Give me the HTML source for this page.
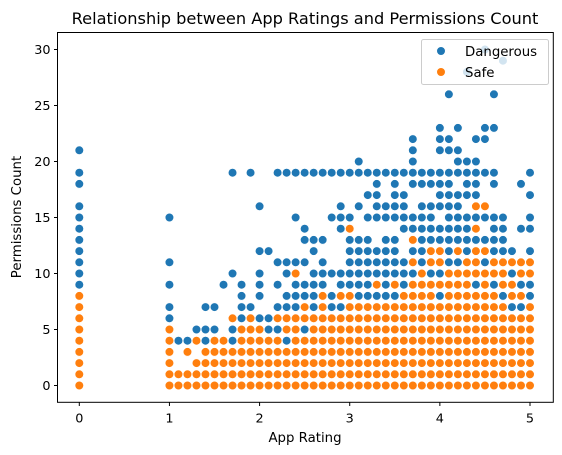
<!DOCTYPE html>
<html><head><meta charset="utf-8"><style>
body{margin:0;background:#fff;}
svg{display:block;font-family:"DejaVu Sans","Liberation Sans",sans-serif;}
</style></head><body>
<svg id="chart" width="562" height="455" viewBox="0 0 562 455" xmlns="http://www.w3.org/2000/svg">
<text x="305" y="24" font-size="16.2" text-anchor="middle" fill="#000">Relationship between App Ratings and Permissions Count</text>
<g id="points"></g>
<rect x="57.5" y="32.5" width="495.8" height="369.8" fill="none" stroke="#000" stroke-width="1"/>
<g id="axes"></g>
<text x="305" y="442" font-size="13.3" text-anchor="middle">App Rating</text>
<text x="21" y="217" font-size="13.3" text-anchor="middle" transform="rotate(-90 21 217)">Permissions Count</text>
<g>
<rect x="421.5" y="39.5" width="127" height="45" rx="2" fill="#fff" fill-opacity="0.8" stroke="#ccc"/>
<g><circle cx="441" cy="51" r="4.3" fill="#1f77b4" stroke="#fff" stroke-width="0.6"/><text x="465" y="56" font-size="13.3">Dangerous</text></g>
<g><circle cx="441" cy="72" r="4.3" fill="#ff7f0e" stroke="#fff" stroke-width="0.6"/><text x="465" y="77" font-size="13.3">Safe</text></g>
</g>
</svg>
<script>
const ratings = [0,1.0,1.1,1.2,1.3,1.4,1.5,1.6,1.7,1.8,1.9,2.0,2.1,2.2,2.3,2.4,2.5,2.6,2.7,2.8,2.9,3.0,3.1,3.2,3.3,3.4,3.5,3.6,3.7,3.8,3.9,4.0,4.1,4.2,4.3,4.4,4.5,4.6,4.7,4.8,4.9,5.0];
const dangerousCounts = [
[21,19,18,16,15,14,13,12,11,10,9],[15,11,9,7,6],[4],[4],[5],[7,5,4],[7,5],[9],[19,10,5,4],[9,8,7,6],[19,7],
[16,12,10,9,8,6],[12,6,5],[19,11,9,7,5],[19,11,10,8,7,4],[19,15,11,9,8,7],[19,14,13,11,9,8,5],[19,13,12,10,9,8,7],[19,13,11,10,9],[19,15,10,8,7],[19,16,15,14,10,9,7],
[19,15,13,12,11,10,9],[20,19,16,13,12,11,10,9,8],[19,17,15,13,12,11,10,9,8],[19,18,17,16,15,12,11,10,8],[19,16,15,13,12,11,10,9,8],[19,18,17,16,15,13,12,11,10,8],[19,17,16,15,14,11,10,9],[22,21,20,19,18,15,14,12,10],[19,18,16,15,14,13,12,11],[19,18,16,15,14,13,10],
[23,22,21,19,18,17,16,14,13,10,8],[26,22,21,19,18,17,16,15,14,13,12,11],[23,21,20,19,17,16,15,14,13,11],[28,20,19,18,17,15,14,13,12],[22,20,19,18,17,15,13,9],[30,23,22,19,15,13,11],[26,23,19,18,15,14,13,12,9],[29,15,14,13,12,8],[12,10,7],[18,14,9,7],[19,17,15,14,12,9,8]
];
const safeCounts = [
[0,1,2,3,4,5,6,7,8],[0,1,2,3,4,5],[0,1],[0,1,3],[0,1,2,4],[0,1,2,3],[0,1,2,3,4],[0,1,2,3,4],[0,1,2,3,6],[0,1,2,3,4,5],[0,1,2,3,4,5,6],
[0,1,2,3,4,5],[0,1,2,3,4],[0,1,2,3,4,6],[0,1,2,3,5,6],[0,1,2,3,4,5,6,10],[0,1,2,3,4,6,7],[0,1,2,3,4,5,6],[0,1,2,3,4,5,6,7,8],[0,1,2,3,4,5,6],[0,1,2,3,4,5,6,8],
[0,1,2,3,4,5,6,7,8,14],[0,1,2,3,4,5,6,7],[0,1,2,3,4,5,6,7],[0,1,2,3,4,5,6,7,9],[0,1,2,3,4,5,6,7],[0,1,2,3,4,5,6,7,9],[0,1,2,3,4,5,6,7,8],[0,1,2,3,4,5,6,7,8,9,11,13],[0,1,2,3,4,5,6,7,8,9,10],[0,1,2,3,4,5,6,7,8,9,11,12],
[0,1,2,3,4,5,6,7,9,11,12],[0,1,2,3,4,5,6,7,8,9,10],[0,1,2,3,4,5,6,7,8,9,10,12],[0,1,2,3,4,5,6,7,8,9,10,11],[0,1,2,3,4,5,6,7,8,10,11,12,14,16],[0,1,2,3,4,5,6,7,8,9,10,12,16],[0,1,2,3,4,5,6,7,8,10,11],[0,1,2,3,4,5,6,7,9,10,11],[0,1,2,3,4,5,6,8,9,11],[0,1,2,3,4,5,6,8,10,11],[0,1,2,3,4,5,6,7,10,11]
];
const xTicks = [0,1,2,3,4,5];
const yTicks = [0,5,10,15,20,25,30];

const NS = "http://www.w3.org/2000/svg";
function xScale(v){ return 79.3 + v*90.14; }
function yScale(v){ return 385.5 - v*11.2; }

const pts = document.getElementById('points');
function dot(r, c, color, name){
  const el = document.createElementNS(NS,'circle');
  el.setAttribute('cx', xScale(r));
  el.setAttribute('cy', yScale(c));
  el.setAttribute('r', 4.3);
  el.setAttribute('fill', color);
  el.setAttribute('stroke', '#fff');
  el.setAttribute('stroke-width', 0.6);
  
  
  pts.appendChild(el);
}
ratings.forEach((r,i)=>{
  dangerousCounts[i].forEach(c=>dot(r,c,'#1f77b4','dangerous-point'));
  safeCounts[i].forEach(c=>dot(r,c,'#ff7f0e','safe-point'));
});

const axes = document.getElementById('axes');
xTicks.forEach(t=>{
  const x = xScale(t);
  const ln = document.createElementNS(NS,'line');
  ln.setAttribute('x1',x); ln.setAttribute('x2',x);
  ln.setAttribute('y1',402.3); ln.setAttribute('y2',406);
  ln.setAttribute('stroke','#000');
  
  
  axes.appendChild(ln);
  const tx = document.createElementNS(NS,'text');
  tx.setAttribute('x',x); tx.setAttribute('y',422.5);
  tx.setAttribute('font-size','12.8'); tx.setAttribute('text-anchor','middle');
  tx.textContent = t;
  
  
  axes.appendChild(tx);
});
yTicks.forEach(t=>{
  const y = yScale(t);
  const ln = document.createElementNS(NS,'line');
  ln.setAttribute('x1',54); ln.setAttribute('x2',57.5);
  ln.setAttribute('y1',y); ln.setAttribute('y2',y);
  ln.setAttribute('stroke','#000');
  
  
  axes.appendChild(ln);
  const tx = document.createElementNS(NS,'text');
  tx.setAttribute('x',50.5); tx.setAttribute('y',y+4.6);
  tx.setAttribute('font-size','12.8'); tx.setAttribute('text-anchor','end');
  tx.textContent = t;
  
  
  axes.appendChild(tx);
});
</script>
</body></html>
